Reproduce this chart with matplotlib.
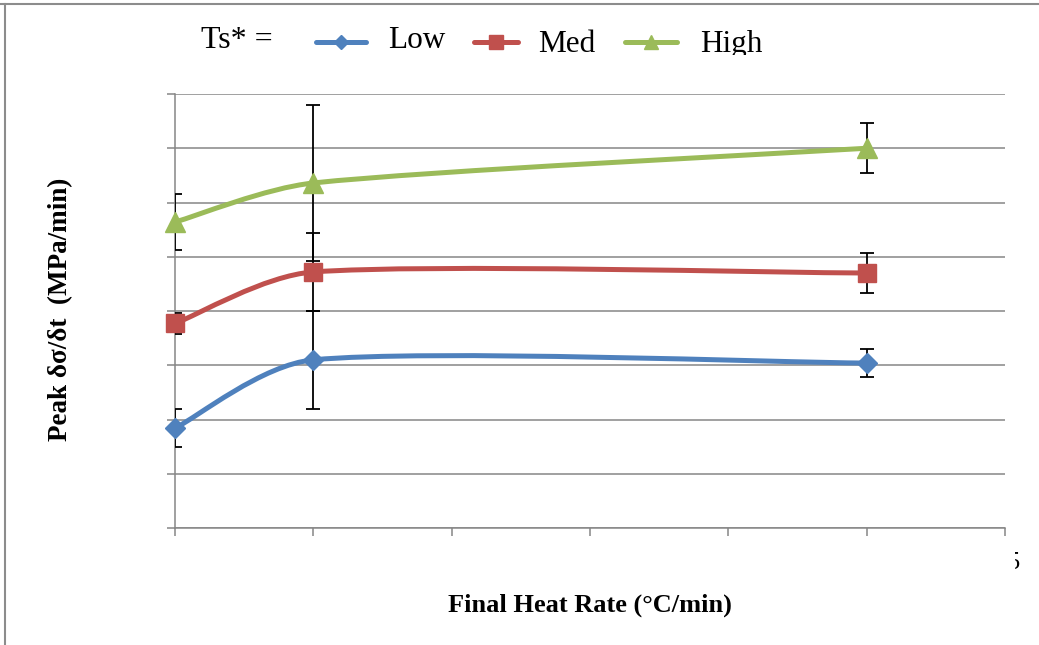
import matplotlib
matplotlib.use("Agg")
import matplotlib.pyplot as plt
import numpy as np
from matplotlib.path import Path
from matplotlib.patches import PathPatch
from matplotlib.lines import Line2D
from matplotlib.transforms import Bbox

# heat rate settings and measured peak stress rates
heat_rate = [0.5, 1.0, 3.0]
series = ["Low", "Med", "High"]
peak_low = [0.92, 1.55, 1.52]
peak_med = [1.885, 2.36, 2.35]
peak_high = [2.82, 3.18, 3.50]
err_low = [0.175, 0.45, 0.13]
err_med = [0.10, 0.36, 0.18]
err_high = [0.26, 0.72, 0.23]

x_ticks = [0.5, 1.0, 1.5, 2.0, 2.5, 3.0, 3.5]
y_ticks = [0.0, 0.5, 1.0, 1.5, 2.0, 2.5, 3.0, 3.5, 4.0]

colors = ["#4F81BD", "#C0504D", "#9BBB59"]
markers = ["D", "s", "^"]
msizes = [10, 13, 14]
grid_col = "#868686"
serif = ["Liberation Serif", "DejaVu Serif"]


def smooth_path(ax, xs, ys):
    # bezier spline through the points, worked out in pixel space; handle
    # length is the catmull-rom one, capped at a third of the segment
    pts = ax.transData.transform(np.column_stack([xs, ys]).astype(float))
    n = len(pts)
    verts = [pts[0]]
    codes = [Path.MOVETO]
    for i in range(n - 1):
        p0 = pts[max(i - 1, 0)]
        p1 = pts[i]
        p2 = pts[i + 1]
        p3 = pts[min(i + 2, n - 1)]
        seg = np.linalg.norm(p2 - p1) / 3.0
        t1 = p2 - p0
        t2 = p3 - p1
        l1 = min(np.linalg.norm(t1) / 6.0, seg)
        l2 = min(np.linalg.norm(t2) / 6.0, seg)
        c1 = p1 + t1 / np.linalg.norm(t1) * l1
        c2 = p2 - t2 / np.linalg.norm(t2) * l2
        verts += [c1, c2, p2]
        codes += [Path.CURVE4] * 3
    verts = ax.transData.inverted().transform(np.array(verts))
    return Path(verts, codes)


fig = plt.figure(figsize=(10.39, 6.45), dpi=100)
ax = fig.add_axes([175 / 1039, 1 - 528 / 645, 830 / 1039, 434 / 645])

ax.set_xlim(0.5, 3.5)
ax.set_ylim(0, 4.0)
ax.set_xticks(x_ticks)
ax.set_yticks(y_ticks)
ax.tick_params(labelbottom=False, labelleft=False, color=grid_col,
               width=1.1, length=6, direction="out")
ax.grid(axis="y", color=grid_col, linewidth=1.1)
ax.set_axisbelow(True)
for side in ["top", "right"]:
    ax.spines[side].set_visible(False)
for side in ["left", "bottom"]:
    ax.spines[side].set_color(grid_col)
    ax.spines[side].set_linewidth(1.1)

data = [(peak_low, err_low), (peak_med, err_med), (peak_high, err_high)]
for (vals, errs), col, mk, ms in zip(data, colors, markers, msizes):
    ax.add_patch(PathPatch(smooth_path(ax, heat_rate, vals), facecolor="none",
                           edgecolor=col, linewidth=3.6, capstyle="round",
                           zorder=3))
    ax.errorbar(heat_rate, vals, yerr=errs, fmt="none", ecolor="black",
                elinewidth=1.3, capsize=5, capthick=1.3, zorder=4)
    ax.plot(heat_rate, vals, linestyle="none", marker=mk, markersize=ms,
            color=col, markeredgecolor=col, clip_on=False, zorder=5)

ax.set_xlabel("Final Heat Rate (°C/min)", family=serif, fontweight="bold",
              fontsize=19)
ax.xaxis.set_label_coords(0.5, -0.150)
ax.set_ylabel("Peak δσ/δt  (MPa/min)", family=serif, fontweight="bold",
              fontsize=19.5)
ax.yaxis.set_label_coords(-0.123, 0.505)

# leftover piece of the last x tick label
frag = fig.text(1021 / 1039, 1 - 552 / 645, "3.5", family=serif, fontsize=18,
                ha="right", va="top")
frag.set_clip_box(Bbox([[1015, 0], [1039, 645]]))
frag.set_clip_on(True)

# legend row at the top
H = 645.0
clip = Bbox([[0, H - 55], [1039, H]])
fig.text(201 / 1039, 1 - 48 / H, "Ts* =", family=serif, fontsize=23,
         va="baseline")
handle_x = [(316, 366), (474, 518), (625, 677)]
text_x = [388, 538, 700]
base_y = [48, 52, 52]
leg_ms = [7.5, 10, 10]
for name, col, mk, ms, (hx0, hx1), tx, by in zip(series, colors, markers,
                                                  leg_ms, handle_x, text_x,
                                                  base_y):
    fig.add_artist(Line2D([hx0 / 1039, hx1 / 1039], [1 - 42 / H, 1 - 42 / H],
                          color=col, linewidth=3.6, solid_capstyle="round",
                          transform=fig.transFigure))
    fig.add_artist(Line2D([(hx0 + hx1) / 2 / 1039], [1 - 42 / H], marker=mk,
                          markersize=ms, color=col, linestyle="none",
                          transform=fig.transFigure))
    t = fig.text(tx / 1039, 1 - by / H, name, family=serif, fontsize=22.5,
                 va="baseline")
    t.set_clip_box(clip)
    t.set_clip_on(True)

# outer frame lines
fig.add_artist(Line2D([0, 1], [1 - 4 / H, 1 - 4 / H], color="#8c8c8c",
                      linewidth=1.5, transform=fig.transFigure))
fig.add_artist(Line2D([5 / 1039, 5 / 1039], [0, 1 - 4 / H], color="#8c8c8c",
                      linewidth=1.5, transform=fig.transFigure))

fig.savefig("out.png", dpi=100)
